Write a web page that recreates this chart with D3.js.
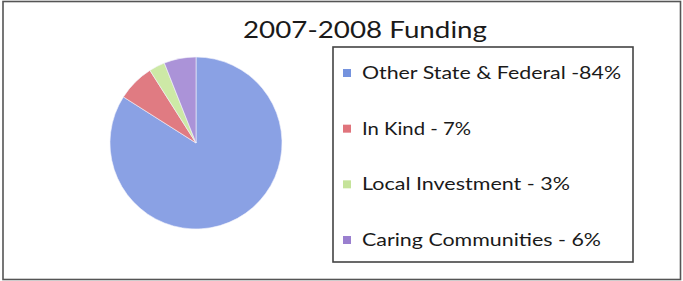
<!DOCTYPE html>
<html>
<head>
<meta charset="utf-8">
<script src="https://cdn.jsdelivr.net/npm/d3@7"></script>
<style>
  html, body { margin: 0; padding: 0; background: #fff; }
  svg { display: block; }
</style>
</head>
<body>
<svg id="chart" width="683" height="281"></svg>
<script>
const categories = ["Other State & Federal", "In Kind", "Local Investment", "Caring Communities"];
const values = [84, 7, 3, 6];
const legendLabels = ["Other State & Federal -84%", "In Kind - 7%", "Local Investment - 3%", "Caring Communities - 6%"];
const sliceColors = ["#8aa1e4", "#e07b82", "#cde9a6", "#ab93d8"];
const swatchColors = ["#7593de", "#e0747c", "#c5e39a", "#9a7fcf"];
const title = "2007-2008 Funding";

const svg = d3.select("#chart");
const font = "Lato, 'Open Sans', sans-serif";

// outer frame
svg.append("rect").attr("x", 3).attr("y", 1.5).attr("width", 677.5).attr("height", 278)
  .attr("fill", "#fff").attr("stroke", "#555").attr("stroke-width", 1.6);

// title
svg.append("text").attr("x", 365).attr("y", 38).attr("text-anchor", "middle")
  .attr("font-family", font).attr("font-size", 24).attr("fill", "#1a1a1a")
  .attr("textLength", 244).attr("lengthAdjust", "spacingAndGlyphs")
  .text(title);

// pie
const cx = 196, cy = 143, r = 86;
const pie = d3.pie().sort(null).value(d => d)(values);
const arc = d3.arc().innerRadius(0).outerRadius(r);
const g = svg.append("g").attr("transform", `translate(${cx},${cy})`);
g.selectAll("path").data(pie).join("path")
  .attr("d", arc)
  .attr("fill", (d, i) => sliceColors[i])
  .attr("stroke", "#f4f4fb").attr("stroke-width", 0.6);

// legend
svg.append("rect").attr("x", 333).attr("y", 47).attr("width", 300).attr("height", 215)
  .attr("fill", "#fff").attr("stroke", "#444").attr("stroke-width", 1.6);

const rowY = d3.scalePoint().domain(categories).range([73, 240]);
const widths = [259, 109, 208, 239];
const lg = svg.append("g");
categories.forEach((c, i) => {
  const y = rowY(c);
  lg.append("rect").attr("x", 343).attr("y", y - 4).attr("width", 8).attr("height", 8)
    .attr("fill", swatchColors[i]);
  lg.append("text").attr("x", 362).attr("y", y + 6)
    .attr("font-family", font).attr("font-size", 17).attr("fill", "#1a1a1a")
    .attr("textLength", widths[i]).attr("lengthAdjust", "spacingAndGlyphs")
    .text(legendLabels[i]);
});
</script>
</body>
</html>
